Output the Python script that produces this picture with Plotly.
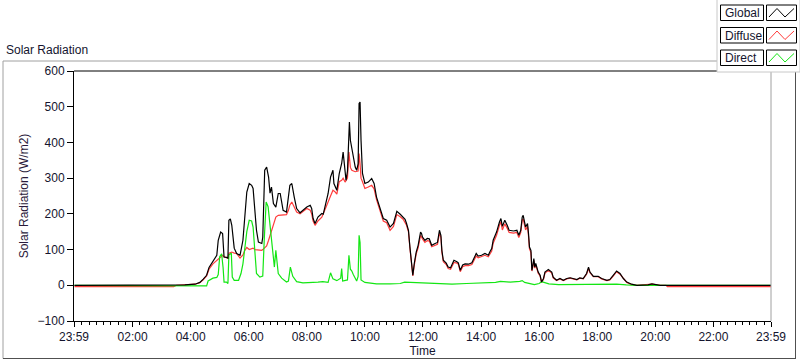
import plotly.graph_objects as go

# ---------------- data ----------------
global_times = [
    "00:00", "03:31", "03:48", "04:09", "04:19", "04:26", "04:33", "04:38", "04:46", "04:54", "04:57",
    "05:02", "05:06", "05:09", "05:14", "05:17", "05:19", "05:22", "05:25", "05:30", "05:35", "05:42", "05:48", "05:52", "05:56",
    "06:01", "06:06", "06:09", "06:13", "06:16", "06:20", "06:27", "06:29", "06:33", "06:37", "06:41", "06:44", "06:47", "06:51", "06:56",
    "07:01", "07:05", "07:11", "07:18", "07:25", "07:29", "07:34", "07:39", "07:46", "07:52",
    "08:00", "08:07", "08:10", "08:13", "08:17", "08:23", "08:31", "08:34", "08:40", "08:44", "08:49", "08:54", "08:56",
    "09:02", "09:07", "09:12", "09:15", "09:17", "09:21", "09:24", "09:27", "09:28", "09:30", "09:33", "09:36", "09:40", "09:43", "09:46", "09:48", "09:50", "09:52", "09:55",
    "10:00", "10:07", "10:14", "10:19", "10:24", "10:31", "10:38", "10:45", "10:52", "10:59",
    "11:06", "11:13", "11:19", "11:23", "11:26", "11:30", "11:33", "11:37", "11:39", "11:42", "11:46", "11:50", "11:55", "11:57", "11:59",
    "12:04", "12:09", "12:13", "12:18", "12:25", "12:30", "12:34", "12:37", "12:39", "12:42", "12:48", "12:52", "12:57",
    "13:04", "13:10", "13:13", "13:17", "13:22", "13:27", "13:34", "13:41", "13:45", "13:50", "13:54",
    "14:01", "14:08", "14:15", "14:18", "14:22", "14:25", "14:32", "14:38", "14:41", "14:44", "14:49", "14:54", "14:58",
    "15:07", "15:14", "15:18", "15:22", "15:25", "15:27", "15:32", "15:36", "15:38", "15:40", "15:43", "15:45", "15:47", "15:49", "15:51", "15:53", "15:58",
    "16:02", "16:05", "16:09", "16:12", "16:19", "16:26", "16:29", "16:36", "16:43", "16:50", "16:57",
    "17:04", "17:11", "17:18", "17:24", "17:31", "17:38", "17:42", "17:45", "17:52",
    "18:02", "18:09", "18:20", "18:26", "18:33", "18:40", "18:47", "18:54",
    "19:01", "19:11", "19:22", "19:45", "19:53", "19:57", "20:10", "23:59",
]
global_values = [
    0, 0, 1, 3, 8, 17, 28, 50, 68, 84, 126,
    149, 145, 79, 78, 76, 182, 186, 168, 104, 89, 84, 126, 201, 261,
    285, 280, 271, 210, 154, 121, 117, 135, 322, 331, 303, 258, 275, 229, 219,
    257, 257, 210, 205, 280, 285, 247, 215, 203, 210,
    219, 224, 215, 187, 173, 191, 201, 199, 238, 257, 303, 322, 285,
    266, 313, 341, 373, 350, 294, 320, 434, 457, 406, 383, 359, 331, 322, 340, 509, 513, 406, 313,
    285, 289, 299, 285, 247, 219, 187, 182, 163, 173,
    207, 199, 191, 185, 173, 154, 107, 51, 28, 61, 93, 112, 149, 145, 135,
    126, 131, 130, 112, 117, 120, 154, 140, 98, 70, 62, 51, 49,
    70, 66, 63, 42, 57, 60, 59, 63, 75, 89, 82,
    84, 89, 84, 93, 103, 126, 149, 177, 187, 165, 182, 168, 154,
    152, 154, 140, 154, 191, 196, 163, 173, 145, 107, 98, 42, 56, 75, 51, 61, 37,
    28, 9, 19, 37, 44, 37, 23, 14, 19, 14, 19,
    21, 19, 16, 21, 19, 33, 51, 37, 25,
    25, 19, 14, 16, 28, 40, 33, 19,
    9, 3, 0, 1, 4, 3, 0, 0,
]

diffuse_times = [
    "00:00", "03:25", "03:31", "03:48", "04:09", "04:19", "04:26", "04:33", "04:38", "04:46", "04:54",
    "05:01", "05:06", "05:09", "05:14", "05:17", "05:19", "05:25", "05:30", "05:35", "05:42", "05:48", "05:52", "05:56",
    "06:01", "06:06", "06:09", "06:13", "06:20", "06:27", "06:29", "06:33", "06:37", "06:41", "06:44", "06:47", "06:51", "06:56",
    "07:01", "07:11", "07:18", "07:22", "07:25", "07:29", "07:34", "07:39", "07:46", "07:52",
    "08:00", "08:07", "08:10", "08:13", "08:17", "08:23", "08:31", "08:40", "08:44", "08:49", "08:54", "08:58",
    "09:02", "09:07", "09:12", "09:15", "09:19", "09:24", "09:27", "09:30", "09:33", "09:40", "09:46", "09:48", "09:50", "09:52", "09:55",
    "10:00", "10:07", "10:14", "10:19", "10:24", "10:31", "10:38", "10:45", "10:52", "10:59",
    "11:06", "11:13", "11:19", "11:26", "11:30", "11:33", "11:37", "11:39", "11:42", "11:46", "11:50", "11:55", "11:59",
    "12:04", "12:09", "12:13", "12:18", "12:25", "12:30", "12:34", "12:37", "12:39", "12:42", "12:48", "12:52", "12:57",
    "13:04", "13:10", "13:13", "13:17", "13:22", "13:27", "13:34", "13:41", "13:45", "13:50", "13:54",
    "14:01", "14:08", "14:15", "14:18", "14:22", "14:25", "14:32", "14:38", "14:41", "14:44", "14:49", "14:54", "14:58",
    "15:07", "15:14", "15:18", "15:22", "15:25", "15:27", "15:32", "15:36", "15:38", "15:40", "15:43", "15:45", "15:47", "15:49", "15:51", "15:53", "15:58",
    "16:02", "16:05", "16:09", "16:12", "16:19", "16:26", "16:29", "16:36", "16:43", "16:50", "16:57",
    "17:04", "17:11", "17:18", "17:24", "17:31", "17:38", "17:42", "17:45", "17:52",
    "18:02", "18:09", "18:20", "18:26", "18:33", "18:40", "18:47", "18:54",
    "19:01", "19:11", "19:22", "19:53", "20:10", "20:22", "20:25", "23:59",
]
diffuse_values = [
    -3.5, -3.5, 0, 1, 3, 7, 15, 26, 45, 60, 70,
    80, 84, 80, 76, 76, 90, 93, 90, 89, 76, 85, 98, 106,
    100, 102, 104, 100, 98, 98, 100, 105, 110, 126, 140, 154, 170, 191,
    196, 196, 198, 210, 225, 233, 219, 205, 200, 207,
    215, 210, 200, 180, 168, 180, 191, 220, 235, 250, 266, 262,
    255, 290, 294, 300, 289, 300, 373, 330, 322, 318, 320, 369, 340, 300, 290,
    271, 275, 280, 270, 240, 210, 180, 175, 154, 165,
    198, 192, 185, 168, 150, 104, 48, 26, 56, 88, 105, 140, 130,
    120, 125, 124, 108, 112, 115, 145, 135, 93, 66, 58, 47, 45,
    64, 62, 59, 38, 52, 55, 55, 58, 68, 82, 77,
    80, 84, 80, 88, 96, 118, 140, 168, 178, 155, 172, 160, 148,
    146, 148, 134, 148, 182, 186, 155, 165, 138, 102, 92, 40, 52, 70, 48, 57, 34,
    26, 8, 17, 34, 41, 34, 21, 13, 18, 13, 18,
    20, 18, 15, 20, 18, 31, 47, 35, 24,
    24, 18, 13, 15, 26, 38, 31, 18,
    8, 2, 0, 3, 0, 0, -3.5, -3.5,
]

direct_times = [
    "00:00", "03:45", "03:48", "04:33", "04:36", "04:46", "04:54", "04:57",
    "05:00", "05:04", "05:07", "05:09", "05:14", "05:17", "05:19", "05:24", "05:26", "05:30", "05:39", "05:44", "05:48", "05:52", "05:56",
    "06:01", "06:06", "06:09", "06:13", "06:16", "06:23", "06:29", "06:32", "06:36", "06:40", "06:44", "06:47", "06:49", "06:53", "06:56",
    "07:01", "07:08", "07:18", "07:22", "07:26", "07:31", "07:39", "07:52",
    "08:07", "08:23", "08:33", "08:44", "08:49", "08:54",
    "09:02", "09:10", "09:12", "09:14", "09:24", "09:27", "09:30", "09:33", "09:36", "09:43", "09:46", "09:48", "09:50", "09:52",
    "10:00", "10:24", "10:52", "11:13", "11:22", "11:40", "12:00", "12:30", "13:00", "13:30",
    "14:00", "14:30", "14:40", "15:00", "15:20", "15:25", "15:30", "15:40", "15:50",
    "16:00", "16:05", "16:10", "16:20", "16:40", "17:00", "17:40", "18:00", "18:40", "19:00", "19:22", "23:59",
]
direct_values = [
    0, 0, -1.5, -1.5, 12, 20, 22, 30,
    80, 88, 50, 9, 9, 5, 85, 90, 23, 14, 14, 33, 60, 100, 150,
    182, 180, 163, 98, 33, 23, 26, 126, 233, 220, 163, 117, 100, 51, 98,
    33, 20, 9, 12, 51, 25, 10, 7,
    7, 9, 10, 8, 35, 18,
    13, 20, 47, 12, 15, 84, 45, 40, 30, 12, 25, 140, 120, 15,
    8, 4, 4, 5, 9, 8, 6, 4, 3, 5,
    6, 8, 11, 9, 11, 13, 8, 4, 2,
    5, 10, 8, 4, 2, 2, 4, 2, 3, 1, 0, 0,
]

series_names = ["Global", "Diffuse", "Direct"]
series_colors = ["#000000", "#ff3c3c", "#14e614"]

x_tick_values = [-1 / 60, 2, 4, 6, 8, 10, 12, 14, 16, 18, 20, 22, 24 - 1 / 60]
x_tick_labels = ["23:59", "02:00", "04:00", "06:00", "08:00", "10:00", "12:00",
                 "14:00", "16:00", "18:00", "20:00", "22:00", "23:59"]


def to_hours(times):
    out = []
    for s in times:
        h, m = s.split(":")
        out.append(int(h) + int(m) / 60.0)
    return out


# ---------------- figure ----------------
FONT = "Liberation Sans, Arial, sans-serif"
TXT = "#14142e"

fig = go.Figure()
# draw order: Diffuse, Direct, Global (Global on top)
for name, times, vals, col in [
    ("Diffuse", diffuse_times, diffuse_values, series_colors[1]),
    ("Direct", direct_times, direct_values, series_colors[2]),
    ("Global", global_times, global_values, series_colors[0]),
]:
    fig.add_trace(go.Scatter(x=to_hours(times), y=vals, mode="lines", name=name,
                             line=dict(color=col, width=1.2)))

PL, PR, PT, PB = 74, 771, 71, 321
W, H = 800, 361


def fx(px):
    return (px - PL) / (PR - PL)


def fy(py):
    return (PB - py) / (PB - PT)


shapes = []
annotations = []

# outer frame (sunken look)
shapes += [
    dict(type="line", xref="paper", yref="paper", x0=fx(3), x1=fx(796), y0=fy(61), y1=fy(61),
         line=dict(color="#a0a0a0", width=1)),
    dict(type="line", xref="paper", yref="paper", x0=fx(3), x1=fx(3), y0=fy(61), y1=fy(358.5),
         line=dict(color="#a0a0a0", width=1)),
    dict(type="line", xref="paper", yref="paper", x0=fx(3), x1=fx(796), y0=fy(358.5), y1=fy(358.5),
         line=dict(color="#505050", width=1)),
    dict(type="line", xref="paper", yref="paper", x0=fx(795.5), x1=fx(795.5), y0=fy(61), y1=fy(358.5),
         line=dict(color="#505050", width=1)),
    # plot box top (black) and right (gray)
    dict(type="line", xref="paper", yref="paper", x0=0, x1=1, y0=1, y1=1,
         line=dict(color="#000000", width=1)),
    dict(type="line", xref="paper", yref="paper", x0=1, x1=1, y0=0, y1=1,
         line=dict(color="#a0a0a0", width=1)),
]

# custom legend panel
shapes.append(dict(type="rect", xref="paper", yref="paper", x0=fx(717), x1=fx(800), y0=fy(72), y1=fy(-1),
                   fillcolor="white", line=dict(color="#c8c8c8", width=1)))
row_tops = [5, 27.5, 50]
for name, col, top in zip(series_names, series_colors, row_tops):
    bot = top + 15.5
    shapes.append(dict(type="rect", xref="paper", yref="paper", x0=fx(720.5), x1=fx(763.5),
                       y0=fy(bot), y1=fy(top), fillcolor="white", line=dict(color="#000000", width=1)))
    shapes.append(dict(type="rect", xref="paper", yref="paper", x0=fx(766.5), x1=fx(796.5),
                       y0=fy(bot), y1=fy(top), fillcolor="white", line=dict(color="#000000", width=1)))
    pts = [(769, top + 12), (777, top + 3.5), (785, top + 12), (794, top + 3.5)]
    path = "M " + " L ".join(f"{fx(a):.5f},{fy(b):.5f}" for a, b in pts)
    shapes.append(dict(type="path", xref="paper", yref="paper", path=path,
                       line=dict(color=col, width=1)))
    annotations.append(dict(text=name, xref="paper", yref="paper", x=fx(722.5), y=fy(top + 8),
                            xanchor="left", yanchor="middle", showarrow=False,
                            font=dict(family=FONT, size=12, color=TXT)))

# chart title
annotations.append(dict(text="Solar Radiation", xref="paper", yref="paper", x=fx(4), y=fy(50),
                        xanchor="left", yanchor="middle", showarrow=False,
                        font=dict(family=FONT, size=12, color=TXT)))

fig.update_layout(
    width=W, height=H,
    margin=dict(l=PL, r=W - PR, t=PT, b=H - PB, pad=0),
    paper_bgcolor="white", plot_bgcolor="white",
    showlegend=False,
    font=dict(family=FONT, size=12, color=TXT),
    shapes=shapes,
    annotations=annotations,
)

fig.update_xaxes(
    range=[-1 / 60, 24 - 1 / 60],
    tickmode="array", tickvals=x_tick_values, ticktext=x_tick_labels,
    ticks="outside", ticklen=5, tickcolor="black", tickwidth=1,
    minor=dict(tickmode="linear", tick0=0, dtick=0.25, ticks="outside", ticklen=3,
               tickcolor="black", showgrid=False),
    showline=True, linecolor="black", linewidth=1,
    showgrid=False, zeroline=False,
    tickfont=dict(family=FONT, size=12, color=TXT),
    title=dict(text="Time", standoff=3, font=dict(family=FONT, size=12, color=TXT)),
    automargin=False,
)
fig.update_yaxes(
    range=[-100, 600], tick0=0, dtick=100,
    ticks="outside", ticklen=6, tickcolor="black", tickwidth=1,
    showline=True, linecolor="black", linewidth=1,
    showgrid=False, zeroline=False,
    tickfont=dict(family=FONT, size=12, color=TXT),
    title=dict(text="Solar Radiation (W/m2)", standoff=6,
               font=dict(family=FONT, size=12, color="#2a1a3a")),
    automargin=False,
)

fig.write_html("out.html",
               config={"displayModeBar": False},
               post_script="document.body.style.margin='0';document.body.style.overflow='hidden';")
